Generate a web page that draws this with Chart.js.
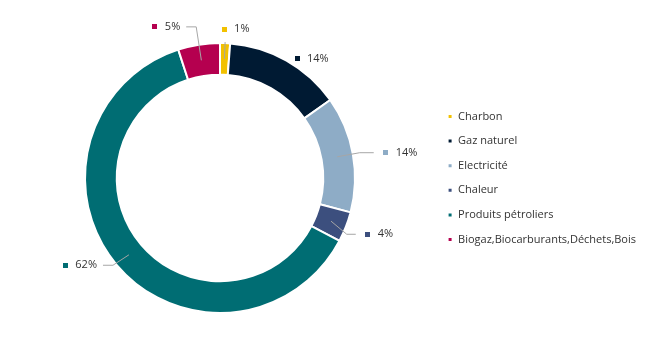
<!DOCTYPE html>
<html>
<head>
<meta charset="utf-8">
<script src="https://cdn.jsdelivr.net/npm/chart.js@4.4.0/dist/chart.umd.min.js"></script>
<style>
html,body{margin:0;padding:0;background:#fff;}
#wrap{width:658px;height:356px;position:relative;}
</style>
</head>
<body>
<div id="wrap"><canvas id="c" width="658" height="356"></canvas></div>
<script>
const categories = ["Charbon", "Gaz naturel", "Electricité", "Chaleur", "Produits pétroliers", "Biogaz,Biocarburants,Déchets,Bois"];
const values = [1.2, 14.0, 13.9, 3.6, 62.3, 5.0];
const colors = ["#F2C100", "#001A33", "#8EACC6", "#3C4F7E", "#006D73", "#B5004F"];

// label placement (layout only): radial extension, vertical shift, horizontal leader length, optional marker offset
const labelPlacement = [
  {ext: 0, dy: 0, h: 0, mx: -1, my: -13, line: true},
  {ext: 0, dy: 0, h: 0, mx: 10, my: -1, line: false},
  {ext: 6, dy: 0, h: 14, line: true},
  {ext: 0, dy: 7, h: 9, line: true},
  {ext: 4, dy: -3, h: 10, line: true},
  {ext: 16, dy: -1, h: 10, line: true}
];

const FONT = "11px 'Open Sans', sans-serif";

const labelPlugin = {
  id: 'outLabels',
  afterDatasetsDraw(chart) {
    const ctx = chart.ctx;
    const meta = chart.getDatasetMeta(0);
    ctx.save();
    ctx.font = FONT;
    ctx.textBaseline = 'middle';
    meta.data.forEach((arc, i) => {
      const p = arc.getProps(['x','y','startAngle','endAngle','innerRadius','outerRadius'], true);
      const mid = (p.startAngle + p.endAngle) / 2;
      const cfg = labelPlacement[i];
      const side = Math.cos(mid) >= -0.001 ? 1 : -1;
      const rMid = (p.innerRadius + p.outerRadius) / 2;
      const sx = p.x + rMid * Math.cos(mid), sy = p.y + rMid * Math.sin(mid);
      const rOut = p.outerRadius + 1 + cfg.ext;
      const ex = p.x + rOut * Math.cos(mid), ey = p.y + rOut * Math.sin(mid) + cfg.dy;
      const lx = ex + side * cfg.h, ly = ey;
      if (cfg.line) {
        ctx.strokeStyle = '#A6A6A6';
        ctx.lineWidth = 1;
        ctx.beginPath();
        ctx.moveTo(sx, sy);
        ctx.lineTo(ex, ey);
        if (cfg.h) ctx.lineTo(lx, ly);
        ctx.stroke();
      }
      const text = Math.round(values[i]) + '%';
      const tw = ctx.measureText(text).width;
      let markX, markY;
      if (cfg.mx !== undefined) {
        markX = ex + cfg.mx; markY = ey + cfg.my;
      } else if (side > 0) {
        markX = lx + 12; markY = ly;
      } else {
        const textEnd = lx - 5;
        markX = textEnd - tw - 11; markY = ly;
      }
      ctx.fillStyle = colors[i];
      ctx.fillRect(Math.round(markX - 2.5), Math.round(markY - 2.5), 5, 5);
      ctx.fillStyle = '#333333';
      ctx.textAlign = 'left';
      ctx.fillText(text, markX + 10, markY);
    });
    ctx.restore();
  }
};

new Chart(document.getElementById('c'), {
  type: 'doughnut',
  data: {
    labels: categories,
    datasets: [{
      data: values,
      backgroundColor: colors,
      borderColor: '#FFFFFF',
      borderWidth: 2,
      radius: 135,
      cutout: '76.5%'
    }]
  },
  options: {
    responsive: false,
    animation: false,
    layout: {padding: {top: 0, bottom: 0, left: 6, right: 12}},
    plugins: {
      tooltip: {enabled: false},
      legend: {
        position: 'right',
        align: 'center',
        labels: {
          boxWidth: 5,
          boxHeight: 5,
          padding: 13.6,
          color: '#333333',
          font: {family: "'Open Sans', sans-serif", size: 11}
        }
      }
    }
  },
  plugins: [labelPlugin]
});
</script>
</body>
</html>
